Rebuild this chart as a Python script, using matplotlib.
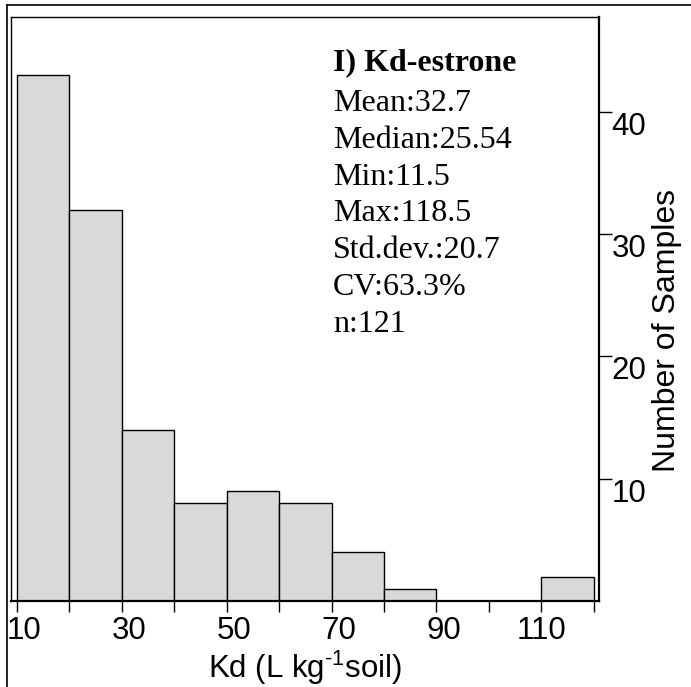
import matplotlib
matplotlib.use("Agg")
import matplotlib.pyplot as plt
import matplotlib.transforms as mtransforms
from matplotlib.lines import Line2D
import numpy as np

# histogram data (Kd-estrone)
bin_edges = [10, 20, 30, 40, 50, 60, 70, 80, 90, 100, 110, 120]
counts = [43, 32, 14, 8, 9, 8, 4, 1, 0, 0, 2]
x_tick_values = [10, 20, 30, 40, 50, 60, 70, 80, 90, 100, 110, 120]
x_tick_labels = ["10", "", "30", "", "50", "", "70", "", "90", "", "110", ""]
y_tick_values = [10, 20, 30, 40]

stats_title = "I) Kd-estrone"
stats_lines = ["Mean:32.7", "Median:25.54", "Min:11.5", "Max:118.5",
               "Std.dev.:20.7", "CV:63.3%", "n:121"]

W, H = 691, 687
fig = plt.figure(figsize=(W / 100, H / 100), dpi=100)

# axes box in pixel terms
left, right, top, bottom = 11, 599, 17, 601
ax = fig.add_axes([left / W, 1 - bottom / H, (right - left) / W, (bottom - top) / H])

edges = np.array(bin_edges, dtype=float)
ax.bar(edges[:-1], counts, width=np.diff(edges), align="edge",
       color="#d9d9d9", edgecolor="black", linewidth=1.0)

ax.set_xlim(8.85, 121.0)
ax.set_ylim(0, 47.75)

sans = ["Liberation Sans", "DejaVu Sans"]
serif = ["Liberation Serif", "DejaVu Serif"]
plt.rcParams["mathtext.default"] = "regular"

ax.set_xticks(x_tick_values)
ax.set_xticklabels(x_tick_labels, family=sans, fontsize=22.5)
ax.tick_params(axis="x", direction="out", length=8, width=1.0, pad=3)
# labels sit a little right of their ticks, except 110
for lab in ax.get_xticklabels():
    if lab.get_text() != "110":
        lab.set_transform(lab.get_transform() + mtransforms.ScaledTranslation(7 / 100, 0, fig.dpi_scale_trans))

ax.yaxis.tick_right()
ax.yaxis.set_label_position("right")
ax.set_yticks(y_tick_values)
ax.set_yticklabels([str(v) for v in y_tick_values], family=sans, fontsize=22.5, va="top")
ax.tick_params(axis="y", direction="out", length=9, width=1.0, pad=0)

ax.set_xlabel("Kd (L kg$^{\u2010 1}$soil)", family=sans, fontsize=22.5, labelpad=2)
ax.set_ylabel("Number of Samples", family=sans, fontsize=23, va="center", ha="center")
ax.yaxis.set_label_coords((667 - left) / (right - left), (bottom - 330) / (bottom - top))

for side in ["left", "top"]:
    ax.spines[side].set_linewidth(1.0)
for side in ["right", "bottom"]:
    ax.spines[side].set_linewidth(1.6)

# stats block (baselines in pixel rows)
tx = (333 - left) / (right - left)
ax.text(tx, (bottom - 70) / (bottom - top), stats_title, transform=ax.transAxes,
        family=serif, fontsize=23, fontweight="bold", va="baseline", ha="left")
for i, line in enumerate(stats_lines):
    base = 111 + i * 36.8
    ax.text(tx, (bottom - base) / (bottom - top), line, transform=ax.transAxes,
            family=serif, fontsize=23, va="baseline", ha="left")

# outer frame (top and left edges)
fx, fy = 7 / W, 1 - 5 / H
fig.add_artist(Line2D([fx, fx], [0, fy], transform=fig.transFigure, color="black", linewidth=1.2))
fig.add_artist(Line2D([fx, 1], [fy, fy], transform=fig.transFigure, color="black", linewidth=1.2))

fig.savefig("out.png", dpi=100)
